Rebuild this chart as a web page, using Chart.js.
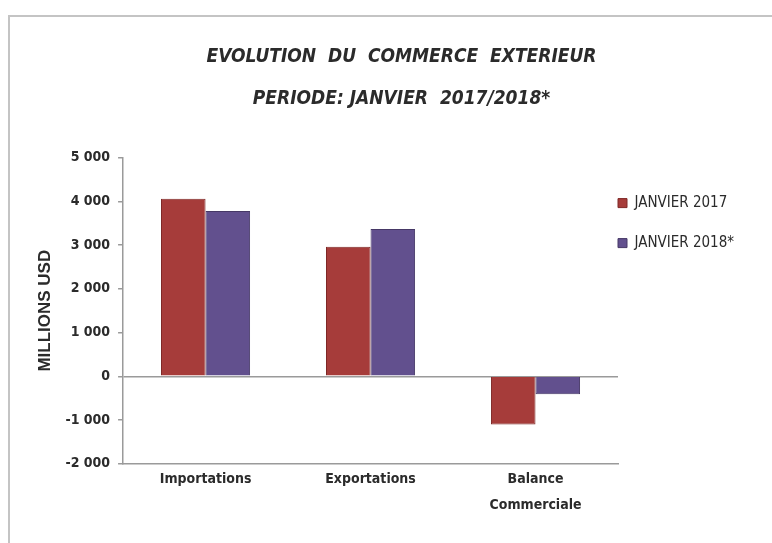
<!DOCTYPE html>
<html>
<head>
<meta charset="utf-8">
<script src="https://cdn.jsdelivr.net/npm/chart.js@4/dist/chart.umd.min.js"></script>
<style>
  body { margin: 0; background: #fff; }
  #frame { position: absolute; left: 8px; top: 15px; width: 764px; height: 528px;
           border-left: 2px solid #c4c4c4; border-top: 2px solid #c4c4c4; }
  #wrap { position: absolute; left: 0; top: 0; width: 772px; height: 543px; }
</style>
</head>
<body>
<div id="frame"></div>
<div id="wrap"><canvas id="tradeChart" width="772" height="543"></canvas></div>
<script>
const categories = ['Importations', 'Exportations', ['Balance', 'Commerciale']];
const janvier2017 = [4060, 2960, -1100];
const janvier2018 = [3780, 3370, -410];
const seriesLabels = ['JANVIER 2017', 'JANVIER 2018*'];
const titleLines = ['EVOLUTION  DU  COMMERCE  EXTERIEUR', 'PERIODE: JANVIER  2017/2018*'];

const colors = {
    red: '#a63c3a',       // rouge brique
    redDark: '#7e2826',
    purple: '#62508e',    // violet
    purpleDark: '#463866',
    axis: '#9a9a9a',
    text: '#2b2b2b'
};
const narrow = "'Liberation Sans Narrow', 'DejaVu Sans Condensed', 'Liberation Sans', sans-serif";

// 5000 -> "5 000"
function fmt(v) {
    const s = Math.abs(v).toString().replace(/\B(?=(\d{3})+(?!\d))/g, ' ');
    return (v < 0 ? '-' : '') + s;
}

// legende collee au bord droit du graphique, un peu plus bas que le haut
const legendPlacer = {
    id: 'legendPlacer',
    afterLayout(chart) {
        const lg = chart.legend;
        const pad = lg.options.labels.padding;
        lg.left = chart.chartArea.right - pad;
        lg.top = chart.chartArea.top + 38 - pad;
    }
};

new Chart(document.getElementById('tradeChart'), {
    type: 'bar',
    data: {
        labels: categories,
        datasets: [{
            label: seriesLabels[0],
            data: janvier2017,
            backgroundColor: colors.red,
            borderColor: colors.redDark,
            borderWidth: 1
        }, {
            label: seriesLabels[1],
            data: janvier2018,
            backgroundColor: colors.purple,
            borderColor: colors.purpleDark,
            borderWidth: 1
        }]
    },
    plugins: [legendPlacer],
    options: {
        responsive: false,
        animation: false,
        layout: { padding: { left: 35, right: 4, top: 36, bottom: 22 } },
        datasets: { bar: { categoryPercentage: 0.54, barPercentage: 1.0 } },
        plugins: {
            title: {
                display: true,
                text: titleLines,
                color: colors.text,
                font: { family: narrow, size: 19, style: 'italic', weight: 'bold', lineHeight: 2.2 },
                padding: { top: 0, bottom: 38 }
            },
            legend: {
                position: 'right',
                align: 'start',
                maxWidth: 150,
                labels: {
                    color: colors.text,
                    font: { family: narrow, size: 15 },
                    boxWidth: 9,
                    boxHeight: 9,
                    padding: 25
                }
            },
            tooltip: { enabled: false }
        },
        scales: {
            x: {
                grid: { display: true, color: 'transparent', drawTicks: false },
                border: { display: true, color: colors.axis, width: 1.5 },
                ticks: {
                    color: colors.text,
                    padding: 2,
                    font: { family: narrow, size: 14, weight: 'bold', lineHeight: 1.9 }
                }
            },
            y: {
                min: -2000,
                max: 5000,
                grid: {
                    color: ctx => (ctx.tick && ctx.tick.value === 0) ? colors.axis : 'transparent',
                    lineWidth: 1.5,
                    drawTicks: true,
                    tickLength: 5,
                    tickColor: colors.axis
                },
                border: { display: true, color: colors.axis, width: 1.5 },
                ticks: {
                    stepSize: 1000,
                    color: colors.text,
                    padding: 8,
                    font: { family: narrow, size: 14, weight: 'bold' },
                    callback: v => fmt(v)
                },
                title: {
                    display: true,
                    text: 'MILLIONS USD',
                    color: colors.text,
                    font: { family: "'Liberation Sans', Arial, sans-serif", size: 17, weight: 'bold' },
                    padding: { top: 0, bottom: 2 }
                }
            }
        }
    }
});
</script>
</body>
</html>
